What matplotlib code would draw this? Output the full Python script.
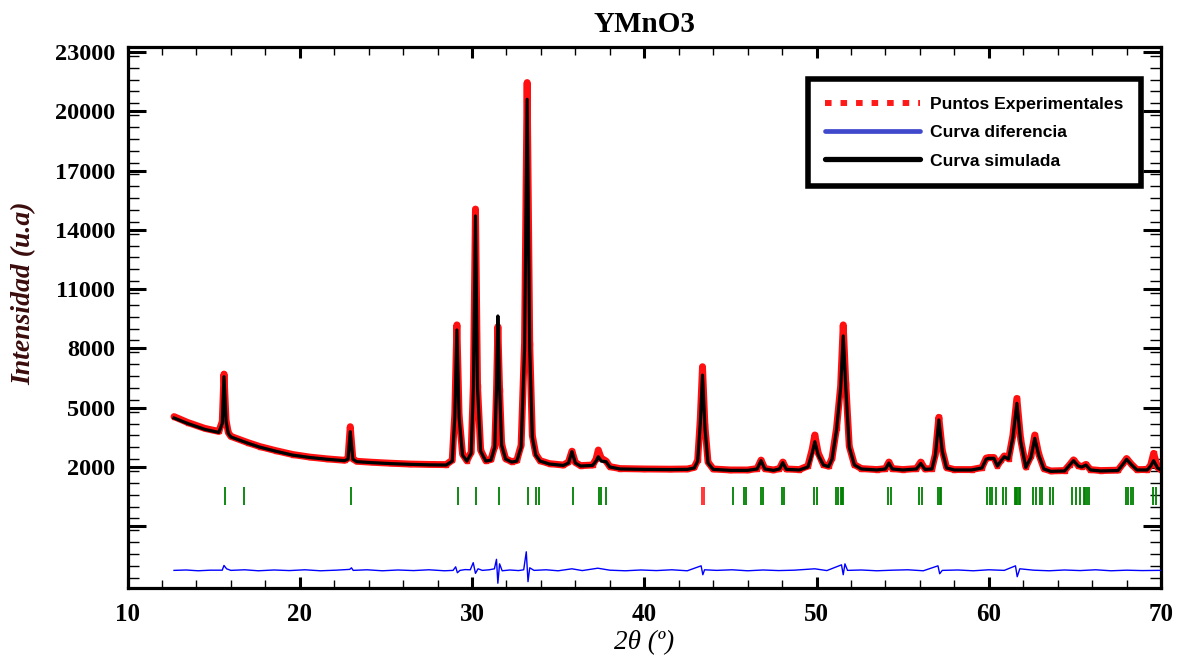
import matplotlib
matplotlib.use("Agg")
import matplotlib.pyplot as plt
from matplotlib.lines import Line2D
from matplotlib.ticker import MultipleLocator, FixedLocator

# ---------------- data ----------------
two_theta = [12.7, 13.5, 14.5, 15.3, 15.5, 15.6, 15.72, 15.85, 16.0, 17.0, 17.7, 18.6, 19.6,
             20.6, 21.6, 22.6, 22.8, 22.93, 23.08, 23.3, 24.2, 25.3, 26.4, 27.5, 28.5,
             28.85, 29.0, 29.12, 29.25, 29.45, 29.7, 29.95, 30.08, 30.2, 30.32, 30.5, 30.8,
             31.1, 31.32, 31.42, 31.5, 31.6, 31.72, 31.95, 32.3, 32.6, 32.85, 33.05, 33.2,
             33.35, 33.5, 33.7, 33.95, 34.5, 35.3, 35.6, 35.8, 36.0, 36.3, 37.0, 37.2,
             37.33, 37.5, 37.78, 38.0, 38.6, 40.0, 41.5, 42.5, 42.9, 43.1, 43.25, 43.38,
             43.52, 43.7, 44.0, 45.0, 46.0, 46.55, 46.78, 47.0, 47.5, 47.85, 48.04, 48.25,
             49.0, 49.5, 49.75, 49.9, 50.1, 50.4, 50.7, 50.9, 51.16, 51.4, 51.55, 51.7,
             51.9, 52.2, 52.6, 53.5, 54.0, 54.2, 54.4, 55.0, 55.8, 56.05, 56.3, 56.7,
             56.9, 57.1, 57.3, 57.55, 58.0, 59.0, 59.6, 59.85, 60.0, 60.3, 60.5, 60.7,
             60.9, 61.15, 61.4, 61.63, 61.85, 62.15, 62.45, 62.67, 62.9, 63.2, 63.6, 64.4,
             64.7, 64.92, 65.2, 65.4, 65.64, 65.9, 66.5, 67.5, 67.8, 68.0, 68.3, 68.6,
             69.2, 69.4, 69.57, 69.8, 70.0]

y_calc = [4480, 4200, 3900, 3750, 4200, 6570, 4300, 3700, 3520, 3200, 3000, 2800, 2600,
          2480, 2390, 2320, 2400, 3790, 2400, 2270, 2220, 2170, 2135, 2110, 2100,
          2300, 4500, 8930, 4500, 2600, 2300, 2700, 6000, 14700, 6000, 2800, 2300,
          2350, 3000, 6000, 9640, 6000, 3100, 2400, 2250, 2300, 3000, 8000, 20600,
          8000, 3500, 2600, 2300, 2150, 2080, 2200, 2780, 2200, 2050, 2080, 2300,
          2520, 2300, 2270, 2000, 1900, 1880, 1870, 1880, 1950, 2300, 4200, 6650,
          4000, 2200, 1880, 1830, 1830, 1900, 2320, 1900, 1830, 1900, 2220, 1880,
          1850, 2000, 2700, 3280, 2600, 2100, 2020, 2400, 3870, 6000, 8630, 6000,
          3000, 2100, 1900, 1850, 1900, 2200, 1900, 1850, 1900, 2180, 1880, 1900,
          2600, 4380, 2800, 1950, 1850, 1850, 1950, 2400, 2440, 2440, 2050, 2300,
          2520, 2400, 3500, 5220, 3300, 1980, 2500, 3450, 2600, 1900, 1780, 1800,
          2100, 2320, 2050, 2000, 2100, 1850, 1800, 1820, 2150, 2390, 2100, 1850,
          1850, 2050, 2320, 1950, 1850]

y_obs = [4550, 4250, 3950, 3800, 4300, 6700, 4350, 3750, 3550, 3230, 3030, 2830, 2630,
         2500, 2410, 2340, 2450, 4040, 2420, 2290, 2240, 2190, 2150, 2130, 2120,
         2350, 4700, 9190, 4600, 2650, 2320, 2750, 6200, 15050, 6100, 2850, 2320,
         2380, 3050, 5800, 9100, 5900, 3150, 2420, 2270, 2330, 3100, 8300, 21450,
         8200, 3600, 2650, 2320, 2170, 2100, 2250, 2800, 2230, 2070, 2100, 2400,
         2860, 2450, 2300, 2020, 1920, 1900, 1890, 1900, 1980, 2350, 4400, 7075,
         4100, 2250, 1900, 1850, 1850, 1920, 2350, 1920, 1850, 1920, 2250, 1900,
         1870, 2050, 2900, 3620, 2700, 2120, 2040, 2450, 3950, 6100, 9190, 6200,
         3050, 2120, 1920, 1870, 1920, 2250, 1920, 1870, 1920, 2250, 1900, 1920,
         2650, 4515, 2850, 1970, 1870, 1870, 1970, 2450, 2480, 2480, 2070, 2330,
         2560, 2420, 3600, 5470, 3400, 2000, 2550, 3620, 2650, 1920, 1800, 1820,
         2120, 2360, 2070, 2020, 2130, 1870, 1820, 1840, 2180, 2430, 2120, 1870,
         1870, 2100, 2690, 1980, 1870]

diff_x = [12.7, 13.4, 14.1, 14.8, 15.5, 15.6, 15.75, 16.0, 16.8, 17.6, 18.5, 19.4, 20.3,
          21.2, 22.1, 22.9, 23.0, 23.1, 23.9, 24.8, 25.7, 26.6, 27.5, 28.4, 28.9, 29.05,
          29.15, 29.3, 29.6, 29.9, 30.07, 30.2, 30.35, 30.6, 31.0, 31.3, 31.42, 31.5,
          31.6, 31.75, 32.2, 32.7, 33.0, 33.15, 33.25, 33.35, 33.6, 34.3, 35.0, 35.8,
          36.4, 37.3, 38.0, 38.9, 39.8, 40.7, 41.6, 42.5, 43.3, 43.4, 43.5, 44.2, 45.1,
          46.0, 46.9, 47.8, 48.7, 49.9, 50.6, 51.45, 51.55, 51.65, 51.8, 52.6, 53.5,
          54.4, 55.3, 56.2, 57.05, 57.15, 57.3, 58.2, 59.1, 60.0, 60.9, 61.55, 61.65,
          61.8, 62.6, 63.5, 64.4, 65.3, 66.2, 67.1, 68.0, 68.9, 69.8, 70.0]
diff_y = [-3230, -3210, -3250, -3220, -3220, -2980, -3150, -3230, -3200, -3250, -3210,
          -3240, -3200, -3250, -3220, -3180, -3100, -3230, -3200, -3250, -3210, -3240,
          -3200, -3250, -3230, -3050, -3350, -3230, -3190, -3200, -2840, -3380, -3150,
          -3230, -3200, -3150, -2670, -3880, -2900, -3250, -3210, -3240, -3200, -2290,
          -3800, -3100, -3230, -3200, -3250, -3150, -3240, -3120, -3220, -3250, -3210,
          -3240, -3200, -3250, -3000, -3450, -3200, -3230, -3200, -3250, -3210, -3240,
          -3220, -3150, -3240, -2950, -3450, -2900, -3230, -3210, -3250, -3220, -3200,
          -3250, -3000, -3400, -3230, -3210, -3250, -3200, -3230, -3000, -3550, -3150,
          -3220, -3250, -3210, -3240, -3200, -3250, -3220, -3240, -3230, -3230]

bragg_main = [15.66, 16.74, 22.97, 29.17, 30.23, 31.55, 33.26, 33.70, 33.86, 35.89,
              37.36, 37.48, 37.79, 45.16, 45.80, 45.93, 46.75, 46.88, 47.98, 48.10,
              49.88, 50.00, 51.12, 51.24, 51.40, 51.47, 51.55, 54.14, 54.30, 55.95,
              56.14, 57.08, 57.15, 57.23, 59.90, 60.06, 60.20, 60.40, 60.84, 60.98,
              61.50, 61.58, 61.66, 61.74, 61.80, 62.58, 62.72, 62.97, 63.10, 63.54,
              63.73, 64.85, 65.04, 65.31, 65.50, 65.60, 65.70, 65.80, 67.96, 68.10,
              68.24, 68.40, 69.52, 69.71]
bragg_second = [43.36, 43.48]

legend_labels = ["Puntos Experimentales", "Curva diferencia", "Curva simulada"]

# ---------------- figure ----------------
plt.rcParams['font.family'] = ['Liberation Serif', 'DejaVu Serif']
fig = plt.figure(figsize=(11.84, 6.56), dpi=100)
ax = fig.add_axes([0.1077, 0.1037, 0.9806 - 0.1077, 0.9284 - 0.1037])

ax.plot(two_theta, y_obs, color='#ff1010', lw=5.0, solid_joinstyle='round',
        solid_capstyle='round', marker='s', ms=3, mec='#ff1010', mfc='#ff1010', zorder=2)
ax.plot(two_theta, y_calc, color='black', lw=2.3, zorder=3)
ax.plot(diff_x, diff_y, color='#0000ff', lw=1.0, zorder=3)
ax.vlines(bragg_main, 80, 970, color='#008000', lw=1.3, zorder=2)
ax.vlines(bragg_second, 80, 970, color='#ff0000', lw=1.1, zorder=2)

ax.set_xlim(10, 70)
ax.set_ylim(-4120, 23250)
ax.xaxis.set_major_locator(MultipleLocator(10))
ax.xaxis.set_minor_locator(MultipleLocator(2))
yt = list(range(-1000, 23001, 3000))
ax.yaxis.set_major_locator(FixedLocator(yt))
ax.set_yticklabels(['' if v < 2000 else str(v) for v in yt])
ax.yaxis.set_minor_locator(MultipleLocator(600))

ax.tick_params(axis='both', which='both', direction='in', top=True, right=True)
ax.tick_params(axis='y', which='major', length=13, width=2.2, pad=9, labelsize=17.5)
ax.tick_params(axis='y', which='minor', length=8, width=1.0)
ax.tick_params(axis='x', which='major', length=8, width=2.2, pad=11, labelsize=18)
ax.tick_params(axis='x', which='minor', length=6, width=1.0)
for lab in ax.get_xticklabels() + ax.get_yticklabels():
    lab.set_fontweight('bold')
for sp in ax.spines.values():
    sp.set_linewidth(2.3)

ax.set_title("YMnO3", fontsize=21, fontweight='bold', pad=11)
ax.set_xlabel("2θ (º)", fontsize=19.5, style='italic', labelpad=3)
ax.set_ylabel("Intensidad (u.a)", fontsize=20, style='italic', fontweight='bold',
              color='#3a0c0c')
ax.yaxis.set_label_coords(-0.088, 0.545)

handles = [
    Line2D([], [], color='#ff1a1a', lw=4.3, linestyle=(0, (1.1, 1.5)), dash_capstyle='butt'),
    Line2D([], [], color='#4048cc', lw=3.4, solid_capstyle='round'),
    Line2D([], [], color='black', lw=3.8, solid_capstyle='round'),
]
leg = ax.legend(handles, legend_labels, loc='upper right',
                bbox_to_anchor=(1141 / 1184, 1 - 79 / 656), bbox_transform=fig.transFigure,
                prop={'family': 'Liberation Sans', 'size': 12.6, 'weight': 'bold'},
                handlelength=5.4, handletextpad=0.6, labelspacing=0.75, borderpad=1.0,
                borderaxespad=0, fancybox=False, framealpha=1, edgecolor='black')
leg.get_frame().set_linewidth(4)

fig.savefig("out.png", dpi=100)
